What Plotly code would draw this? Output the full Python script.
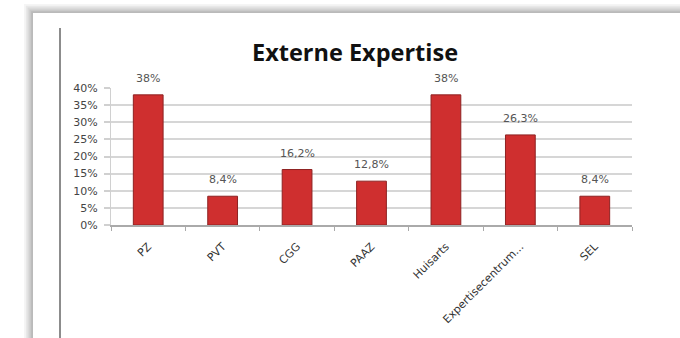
import plotly.graph_objects as go

categories = ["PZ", "PVT", "CGG", "PAAZ", "Huisarts", "Expertisecentrum...", "SEL"]
values = [0.38, 0.084, 0.162, 0.128, 0.38, 0.263, 0.084]
value_labels = ["38%", "8,4%", "16,2%", "12,8%", "38%", "26,3%", "8,4%"]
y_tickvals = [0, 0.05, 0.10, 0.15, 0.20, 0.25, 0.30, 0.35, 0.40]
y_ticktext = ["0%", "5%", "10%", "15%", "20%", "25%", "30%", "35%", "40%"]

W, H = 680, 338
L, R, T, B = 111, 48, 88, 113
PW, PH = W - L - R, H - T - B
FONT = "DejaVu Sans, Arial"
TFONT = "Open Sans, Arial"

def px(x):
    return (x - L) / PW

def py(y):
    return (H - B - y) / PH

fig = go.Figure()
fig.add_trace(go.Bar(
    x=categories, y=values, width=0.4,
    marker=dict(color="#cf2f2f", line=dict(color="#8e2222", width=1)),
    hoverinfo="skip",
))

for c, v, t in zip(categories, values, value_labels):
    fig.add_annotation(x=c, y=v, text=t, showarrow=False, yanchor="bottom",
                       yshift=8, font=dict(size=11, color="#555555", family=FONT))

shapes = []
for i, op in enumerate([0.04, 0.05, 0.06, 0.07, 0.08]):
    d = 9 - i * 1.8
    shapes.append(dict(type="rect", xref="paper", yref="paper",
                       x0=px(33 - d), x1=px(720), y0=py(13 - d), y1=py(360),
                       fillcolor=f"rgba(0,0,0,{op})", line=dict(width=0),
                       layer="below"))
shapes.append(dict(type="rect", xref="paper", yref="paper",
                   x0=px(33), x1=px(720), y0=py(13), y1=py(360),
                   fillcolor="white", line=dict(width=0), layer="below"))
shapes.append(dict(type="line", xref="paper", yref="paper",
                   x0=px(60), x1=px(60), y0=py(28), y1=py(345),
                   line=dict(color="#666666", width=1.5), layer="below"))
fig.update_layout(shapes=shapes)

fig.update_layout(
    width=W, height=H,
    margin=dict(l=L, r=R, t=T, b=B),
    paper_bgcolor="white", plot_bgcolor="rgba(0,0,0,0)",
    showlegend=False,
    title=dict(text="<b>Externe Expertise</b>", x=355 / W, xanchor="center",
               y=1 - 53 / H, yanchor="middle",
               font=dict(size=23.5, color="#111111", family=TFONT)),
    font=dict(family=FONT, size=11, color="#444444"),
)
fig.update_xaxes(
    type="category", showgrid=False, ticks="outside", tickson="boundaries",
    ticklen=4, tickcolor="#aaaaaa", showline=True, linecolor="#aaaaaa",
    linewidth=1.5, tickangle=-45, ticklabelstandoff=9,
    tickfont=dict(size=11, color="#333333"),
)
fig.update_yaxes(
    range=[0, 0.40], tickvals=y_tickvals, ticktext=y_ticktext,
    showgrid=True, gridcolor="#d6d6d6", gridwidth=2, zeroline=False,
    showline=True, linecolor="#d0d0d0", linewidth=1,
    ticks="outside", ticklen=6, tickcolor="#d0d0d0", tickwidth=2,
    ticklabelstandoff=4,
    tickfont=dict(size=11, color="#444444"),
)

fig.write_html("out.html")
